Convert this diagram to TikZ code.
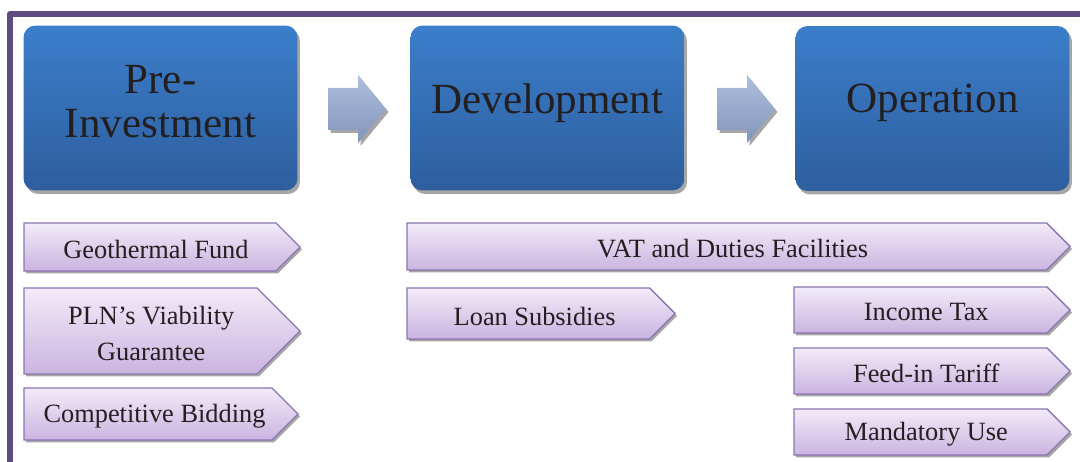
\documentclass[tikz,border=0pt]{standalone}
\usepackage{fontspec}
\setmainfont{Liberation Serif}
\usetikzlibrary{shadows,calc}

\definecolor{framepurple}{HTML}{5F4B7F}
\definecolor{stagetop}{HTML}{3B7ECA}
\definecolor{stagebot}{HTML}{2E5E9E}
\definecolor{arrtop}{HTML}{AEBFDC}
\definecolor{arrbot}{HTML}{8295BB}
\definecolor{chevtop}{HTML}{F2EBF8}
\definecolor{chevbot}{HTML}{CAB4E0}
\definecolor{chevline}{HTML}{8C74B2}
\definecolor{inktext}{HTML}{231F20}
\definecolor{shadowgrey}{HTML}{A6A6A6}

\tikzset{
  stagebox/.style={rounded corners=0.24cm, minimum width=5.48cm, minimum height=3.3cm,
    top color=stagetop, bottom color=stagebot, draw=none,
    drop shadow={shadow xshift=0.05cm, shadow yshift=-0.07cm, fill=shadowgrey, opacity=1}},
  stagelabel/.style={text=inktext, align=center, inner sep=0pt,
    font=\fontsize{24.5}{25}\selectfont},
  blockarrow/.style={top color=arrtop, bottom color=arrbot, draw=none},
  chevshade/.style={top color=chevtop, bottom color=chevbot, draw=chevline, line width=0.8pt},
  chevshadow/.style={fill=shadowgrey},
  chevlabel/.style={text=inktext, align=center, inner sep=0pt,
    font=\fontsize{15}{20.4}\selectfont},
}

% pentagon tag: name, left, top, tip x, bottom, text
\newcommand\chevtag[6]{%
  \pgfmathsetmacro\chvhalf{(#5-#3)/2}%
  \pgfmathsetmacro\chvmid{(#5+#3)/2}%
  \pgfmathsetmacro\chvbase{#4-\chvhalf}%
  \begin{scope}[shift={(2,2.5)}]
    \fill[chevshadow] (#2,#3) -- (\chvbase,#3) -- (#4,\chvmid) -- (\chvbase,#5) -- (#2,#5) -- cycle;
  \end{scope}
  \shade[chevshade] (#2,#3) -- (\chvbase,#3) -- (#4,\chvmid) -- (\chvbase,#5) -- (#2,#5) -- cycle;
  \node[chevlabel] (#1) at ({(#2+#4)/2-\chvhalf/4},{\chvmid+2.5}) {#6};
}

% block arrow between stages, offset by #1
\newcommand\stagearrow[1]{%
  \begin{scope}[xshift=#1*0.02cm]
    \begin{scope}[shift={(2.5,3)}]
      \fill[shadowgrey] (328,88) -- (358,88) -- (358,75) -- (386,109) -- (358,143) -- (358,130) -- (328,130) -- cycle;
    \end{scope}
    \shade[blockarrow] (328,88) -- (358,88) -- (358,75) -- (386,109) -- (358,143) -- (358,130) -- (328,130) -- cycle;
  \end{scope}
}

\begin{document}
\begin{tikzpicture}[x=0.02cm,y=-0.02cm]
  \useasboundingbox (0,0) rectangle (1080,462);

  % outer frame
  \draw[framepurple, line width=3.4pt, line join=round] (10,470) -- (10,14) -- (1090,14);

  % stages
  \node[stagebox] (pre) at (160.5,108) {};
  \node[stagebox] (dev) at (547.5,108) {};
  \node[stagebox] (ops) at (932.5,108.5) {};
  \node[stagelabel] (pretxt) at (160.5,102) {Pre-\\Investment};
  \node[stagelabel] (devtxt) at (547.5,103) {Development};
  \node[stagelabel] (opstxt) at (932.5,103) {Operation};

  % arrows between stages
  \stagearrow{0}
  \stagearrow{389}

  % pre-investment instruments
  \chevtag{gf}{24}{223}{300}{271}{Geothermal Fund}
  \chevtag{pln}{24}{288}{300}{374}{PLN’s Viability\\Guarantee}
  \chevtag{cb}{24}{388}{298}{440}{Competitive Bidding}

  % development instruments
  \chevtag{vat}{407}{223}{1070}{270}{VAT and Duties Facilities}
  \chevtag{loan}{407}{288}{675}{339}{Loan Subsidies}

  % operation instruments
  \chevtag{inc}{794}{287}{1070}{333}{Income Tax}
  \chevtag{fit}{794}{348}{1070}{394}{Feed-in Tariff}
  \chevtag{mand}{794}{409}{1070}{455}{Mandatory Use}
\end{tikzpicture}
\end{document}
